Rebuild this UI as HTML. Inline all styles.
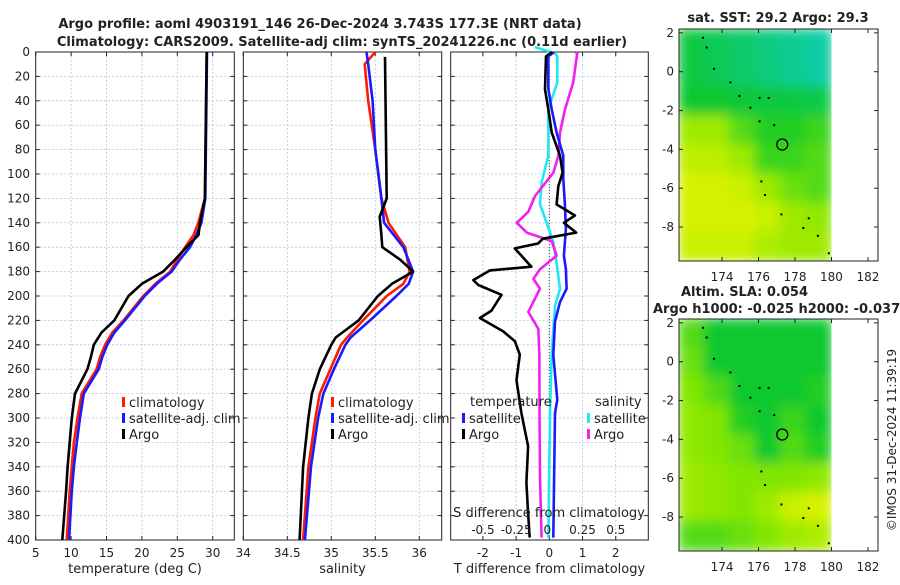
<!DOCTYPE html>
<html><head><meta charset="utf-8"><style>
body{margin:0;background:#fff;width:900px;height:580px;overflow:hidden;font-family:"Liberation Sans","DejaVu Sans",sans-serif}
svg text{font-family:"DejaVu Sans","Liberation Sans",sans-serif}
</style></head><body>
<svg id="s" width="900" height="580" viewBox="0 0 900 580" xmlns="http://www.w3.org/2000/svg"></svg>
<script>
// ---- data ----
const depths=[0,120,140,150,160,170,180,190,200,210,220,230,240,250,260,280,300,320,340,360,400];
const tArgo=[29.15,28.9,28.2,28.0,26.3,24.7,23.0,20.0,18.1,17.1,16.1,14.3,13.2,12.8,12.3,10.55,10.1,9.8,9.5,9.3,8.76];
const tClim=[29.15,28.9,27.97,27.3,26.1,25.0,24.0,21.9,20.2,18.8,17.4,15.8,14.8,14.1,13.6,11.5,10.9,10.4,10.1,9.8,9.38];
const tSat=[29.2,28.95,28.4,27.7,26.8,25.4,24.2,22.1,20.4,19.0,17.6,16.1,15.1,14.4,13.9,11.8,11.25,10.8,10.4,10.1,9.7];
const sArgoD=[4,120,135,150,160,170,180,190,200,220,234,240,260,280,300,340,400];
const sArgo=[35.61,35.63,35.55,35.57,35.58,35.78,35.93,35.69,35.53,35.31,35.05,35.0,34.87,34.78,34.74,34.68,34.64];
const sModD=[0,10,40,80,120,140,160,180,190,200,220,234,240,260,280,300,340,400];
const sClim=[35.5,35.38,35.42,35.5,35.57,35.65,35.84,35.89,35.82,35.63,35.36,35.18,35.11,34.99,34.87,34.82,34.74,34.68];
const sSat=[35.4,35.42,35.47,35.5,35.57,35.6,35.82,35.93,35.88,35.74,35.44,35.22,35.16,35.03,34.91,34.85,34.77,34.70];
const dtSatD=[0,3.5,30,47,66,85,104,125,145,167,178,194,205,221,248,285,296,398];
const dtSat=[0.15,-0.03,-0.03,0.07,0.22,0.42,0.42,0.47,0.5,0.44,0.5,0.52,0.32,0.17,0.12,0.24,0.17,0.12];
const dtArgoD=[0,3.5,30.6,47,66,85,99,110,125,129,134,140,148,153,157,161,176,179,187,191,199,212,218,229,237,248,269,296,323,353,378,398];
const dtArgo=[0.08,-0.1,-0.13,-0.03,0.07,0.32,0.4,0.27,0.22,0.47,0.77,0.44,0.81,-0.19,-0.34,-1.04,-0.54,-1.79,-2.29,-2.14,-1.44,-1.74,-2.09,-1.39,-1.04,-0.89,-0.99,-0.84,-0.64,-0.69,-0.64,-0.59];
const dsSatD=[-4,1,3.5,25,47,66,85,107,125,140,156,173,194,208,248,296,398];
const dsSat=[-0.108,0.043,0.06,0.06,-0.008,-0.008,-0.008,-0.058,-0.07,-0.02,0.03,0.055,0.08,0.043,0.018,0.005,-0.008];
const dsArgoD=[0,1,25,47,66,85,99,118,131,140,148,155,167,178,186,194,213,227,248,296,350,398];
const dsArgo=[0.193,0.21,0.18,0.118,0.08,0.068,0.03,-0.108,-0.158,-0.245,-0.17,0.018,0.055,-0.07,-0.12,-0.07,-0.158,-0.083,-0.075,-0.074,-0.07,-0.058];
const sstGrid=[[0.3,0.25,0.2,0.15,0.1,0.05],[0.3,0.25,0.2,0.15,0.1,0.05],[0.35,0.35,0.32,0.3,0.3,0.28],[0.7,0.7,0.5,0.4,0.4,0.45],[0.8,0.8,0.7,0.45,0.45,0.5],[0.9,0.9,0.85,0.7,0.55,0.5],[0.9,0.9,0.9,0.85,0.7,0.65],[0.85,0.85,0.85,0.75,0.7,0.7]];
const slaGrid=[[0.5,0.35,0.35,0.35,0.35,0.35],[0.55,0.35,0.35,0.35,0.35,0.35],[0.6,0.5,0.35,0.35,0.35,0.4],[0.65,0.6,0.4,0.35,0.45,0.35],[0.65,0.6,0.55,0.35,0.5,0.4],[0.7,0.65,0.6,0.6,0.6,0.65],[0.7,0.65,0.6,0.7,0.85,0.9],[0.5,0.5,0.55,0.6,0.7,0.75]];
const argoLon=177.3, argoLat=-3.75;

const S=document.getElementById('s');const NS='http://www.w3.org/2000/svg';
function el(t,a,p){const e=document.createElementNS(NS,t);for(const k in a)e.setAttribute(k,a[k]);(p||S).appendChild(e);return e;}
function txt(x,y,s,a){const e=el('text',Object.assign({x:x,y:y,'font-size':13,fill:'#222'},a||{}));e.textContent=s;return e;}
const Y0=52,Y1=540;const yD=d=>Y0+d*(Y1-Y0)/400;
function panel(name,x0,x1,xmin,xmax,ticks,fmt,label){
  const g=el('g',{});
  const xs=v=>x0+(v-xmin)/(xmax-xmin)*(x1-x0);
  for(let d=20;d<400;d+=20)el('line',{x1:x0,x2:x1,y1:yD(d),y2:yD(d),stroke:'#b8c4dc','stroke-dasharray':'2,2','stroke-width':0.8},g);
  ticks.forEach(v=>{const x=xs(v);if(x>x0+1&&x<x1-1)el('line',{x1:x,x2:x,y1:Y0,y2:Y1,stroke:'#b8c4dc','stroke-dasharray':'2,2','stroke-width':0.8},g);
    el('line',{x1:x,x2:x,y1:Y1,y2:Y1-4,stroke:'#222'},g);el('line',{x1:x,x2:x,y1:Y0,y2:Y0+4,stroke:'#222'},g);
    const t=txt(x,557,fmt(v),{'text-anchor':'middle','font-size':12});});
  for(let d=0;d<=400;d+=20){el('line',{x1:x0,x2:x0+4,y1:yD(d),y2:yD(d),stroke:'#222'},g);el('line',{x1:x1,x2:x1-4,y1:yD(d),y2:yD(d),stroke:'#222'},g);}
  el('rect',{x:x0,y:Y0,width:x1-x0,height:Y1-Y0,fill:'none',stroke:'#222'},g);
  if(label){const t=txt((x0+x1)/2,573,label,{'text-anchor':'middle'});}
  return xs;
}
function line(xs,vals,ds,color,name,w){
  const p=vals.map((v,i)=>xs(v).toFixed(1)+','+yD(ds[i]).toFixed(1)).join(' ');
  const e=el('polyline',{points:p,fill:'none',stroke:color,'stroke-width':w||2.6,'stroke-linejoin':'round'});
  
}
for(let d=0;d<=400;d+=20){const t=txt(30,yD(d)+4,String(d),{'text-anchor':'end','font-size':12});}
const xT=panel('temperature-panel',35.7,234.3,5,33.05,[5,10,15,20,25,30],v=>v,'temperature (deg C)');
line(xT,tClim,depths,'#ff1a00','climatology-temperature-line');
line(xT,tSat,depths,'#1a1aff','satellite-temperature-line');
line(xT,tArgo,depths,'#000','argo-temperature-line');
const xS=panel('salinity-panel',243.3,441.7,34,36.255,[34,34.5,35,35.5,36],v=>v,'salinity');
line(xS,sClim,sModD,'#ff1a00','climatology-salinity-line');
line(xS,sSat,sModD,'#1a1aff','satellite-salinity-line');
line(xS,sArgo,sArgoD,'#000','argo-salinity-line');
const xD=panel('difference-panel',450.7,648.3,-2.97,2.98,[-2,-1,0,1,2],v=>v,'T difference from climatology');
const xSd=v=>xD(v*4);
el('line',{x1:xD(0),x2:xD(0),y1:Y0,y2:Y1,stroke:'#444','stroke-dasharray':'1,2'});
line(xSd,dsSat,dsSatD,'#22e8f0','satellite-salinity-diff-line');
line(xSd,dsArgo,dsArgoD,'#f020f0','argo-salinity-diff-line');
line(xD,dtSat,dtSatD,'#1a1aff','satellite-temperature-diff-line');
line(xD,dtArgo,dtArgoD,'#000','argo-temperature-diff-line');
txt(549,517,'S difference from climatology',{'text-anchor':'middle'});
[-0.5,-0.25,0,0.25,0.5].forEach(v=>{const t=txt(xSd(v)+(v==0?-2:0),534,String(v),{'text-anchor':'middle','font-size':12});});
function leg(x,y,c,s,n){el('rect',{x:x,y:y-10,width:3,height:10,fill:c});const t=txt(x+7,y,s);}
leg(122,407,'#ff1a00','climatology','legend-climatology');leg(122,423,'#1a1aff','satellite-adj. clim','legend-satellite-adj');leg(122,439,'#000','Argo','legend-argo');
leg(331,407,'#ff1a00','climatology','legend-climatology-s');leg(331,423,'#1a1aff','satellite-adj. clim','legend-satellite-adj-s');leg(331,439,'#000','Argo','legend-argo-s');
txt(470,406,'temperature');txt(595,406,'salinity');
leg(462,423,'#1a1aff','satellite','legend-t-satellite');leg(462,439,'#000','Argo','legend-t-argo');
leg(587,423,'#22e8f0','satellite','legend-s-satellite');leg(587,439,'#f020f0','Argo','legend-s-argo');
txt(320,28,'Argo profile: aoml 4903191_146 26-Dec-2024 3.743S 177.3E (NRT data)',{'text-anchor':'middle','font-weight':'bold'});
txt(342,46,'Climatology: CARS2009. Satellite-adj clim: synTS_20241226.nc (0.11d earlier)',{'text-anchor':'middle','font-weight':'bold'});
// maps
function cmap(v){const st=[[0,[16,205,185]],[0.35,[10,200,45]],[0.6,[130,230,0]],[0.9,[215,242,0]],[1,[240,200,40]]];
  for(let i=1;i<st.length;i++)if(v<=st[i][0]){const a=st[i-1],b=st[i],f=(v-a[0])/(b[0]-a[0]);return 'rgb('+a[1].map((c,k)=>Math.round(c+(b[1][k]-c)*f)).join(',')+')';}return 'rgb(240,200,40)';}
el('filter',{id:'bl',x:'0',y:'0',width:'1',height:'1'},el('defs',{})).appendChild(document.createElementNS(NS,'feGaussianBlur')).setAttribute('stdDeviation','6');
const LON0=171.64,LON1=182.55,LAT0=2.2,LAT1=-9.75;
function map(name,top,bot,grid){
  const g=el('g',{});
  const lonX=l=>679+(l-LON0)/(LON1-LON0)*(878-679);const latY=la=>top+(LAT0-la)/(LAT0-LAT1)*(bot-top);
  const cp='cp'+name;const c=el('clipPath',{id:cp},g);el('rect',{x:679,y:top,width:lonX(180)-679,height:bot-top},c);
  const gg=el('g',{'clip-path':'url(#'+cp+')'},g);const gi=el('g',{filter:'url(#bl)'},gg);
  const nr=grid.length,nc=grid[0].length,cw=(lonX(180)-679)/nc,rh=(bot-top)/nr;
  el('rect',{x:679,y:top,width:lonX(180)-679,height:bot-top,fill:cmap(0.5)},gi);
  grid.forEach((r,i)=>r.forEach((v,j)=>el('rect',{x:679+j*cw-1,y:top+i*rh-1,width:cw+2,height:rh+2,fill:cmap(v)},gi)));
  el('rect',{x:679,y:top,width:199,height:bot-top,fill:'none',stroke:'#222'},g);
  [174,176,178,180,182].forEach(l=>{const x=lonX(l);el('line',{x1:x,x2:x,y1:bot,y2:bot-4,stroke:'#222'},g);el('line',{x1:x,x2:x,y1:top,y2:top+4,stroke:'#222'},g);txt(x,bot+20,String(l),{'text-anchor':'middle','font-size':12});});
  [2,0,-2,-4,-6,-8].forEach(la=>{const y=latY(la);el('line',{x1:679,x2:683,y1:y,y2:y,stroke:'#222'},g);el('line',{x1:878,x2:874,y1:y,y2:y,stroke:'#222'},g);txt(674,y+4,String(la),{'text-anchor':'end','font-size':12});});
  const ci=el('circle',{cx:lonX(argoLon),cy:latY(argoLat),r:5.5,fill:'none',stroke:'#000','stroke-width':1.3},g);
  
  [[172.9,1.8],[173.1,1.3],[173.5,0.2],[174.4,-0.5],[174.9,-1.2],[175.5,-1.8],[176,-1.3],[176.5,-1.3],[176,-2.5],[176.8,-2.7],[176.1,-5.6],[176.3,-6.3],[177.2,-7.3],[178.7,-7.5],[178.4,-8],[179.2,-8.4],[179.8,-9.3]].forEach(p=>el('rect',{x:lonX(p[0]),y:latY(p[1]),width:2,height:2,fill:'#000'},g));
  return g;
}
map('sst-map',29,261,sstGrid);map('sla-map',319,551,slaGrid);
txt(778,22,'sat. SST: 29.2 Argo: 29.3',{'text-anchor':'middle','font-weight':'bold'});
txt(681,296,'Altim. SLA: 0.054',{'font-weight':'bold'});
txt(653,313,'Argo h1000: -0.025 h2000: -0.037',{'font-weight':'bold'});
txt(0,0,'©IMOS 31-Dec-2024 11:39:19',{transform:'translate(896,440) rotate(-90)','text-anchor':'middle','font-size':12});
</script>
</body></html>
